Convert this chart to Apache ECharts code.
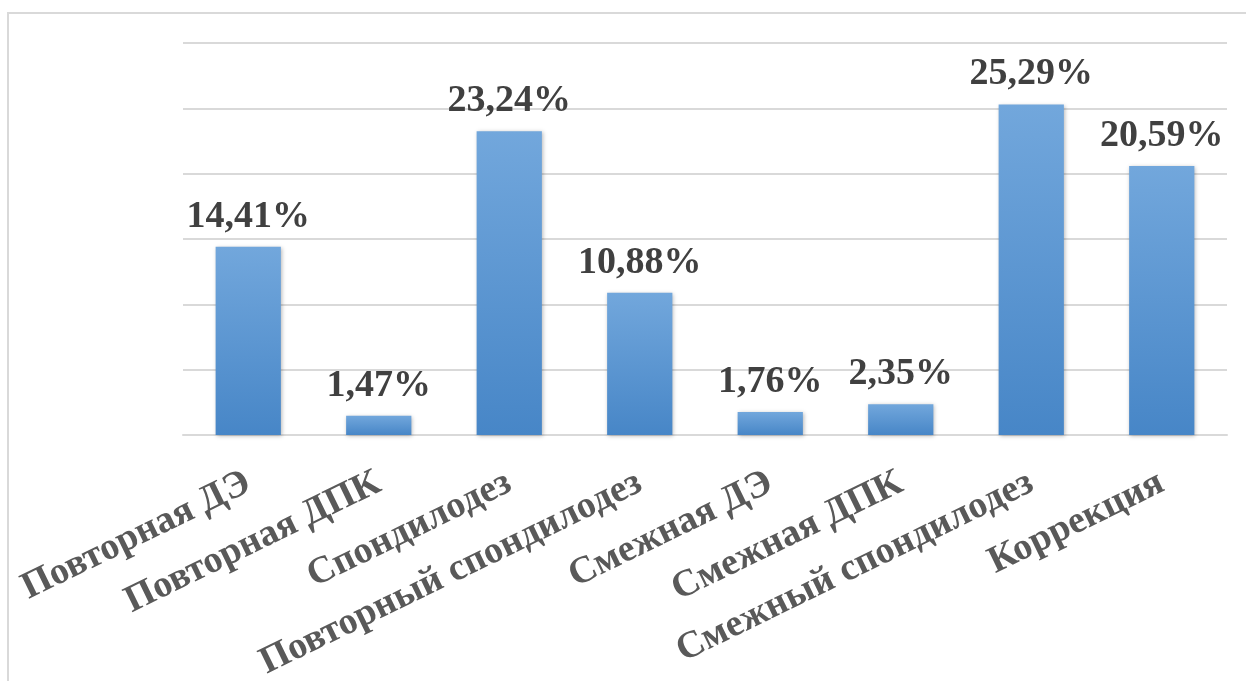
<!DOCTYPE html>
<html>
<head>
<meta charset="utf-8">
<script src="https://cdn.jsdelivr.net/npm/echarts@6/dist/echarts.min.js"></script>
<style>
  html, body { margin: 0; padding: 0; background: #ffffff; }
  #chart { width: 1246px; height: 681px; }
</style>
</head>
<body>
<div id="chart"></div>
<script>
// Категории и доли (%)
const categories = [
  'Повторная ДЭ',
  'Повторная ДПК',
  'Спондилодез',
  'Повторный спондилодез',
  'Смежная ДЭ',
  'Смежная ДПК',
  'Смежный спондилодез',
  'Коррекция'
];
const values = [14.41, 1.47, 23.24, 10.88, 1.76, 2.35, 25.29, 20.59];

const SERIF = '"Liberation Serif", "Times New Roman", "DejaVu Serif", serif';

const chart = echarts.init(document.getElementById('chart'), null, { renderer: 'canvas' });

chart.setOption({
  backgroundColor: '#ffffff',
  animation: false,
  grid: {
    left: 183, right: 19, top: 43, bottom: 246,
    containLabel: false,
    outerBoundsMode: 'none'
  },
  xAxis: {
    type: 'category',
    data: categories,
    axisLine: { show: true, lineStyle: { color: '#d9d9d9', width: 2 } },
    axisTick: { show: false },
    axisLabel: {
      interval: 0,
      rotate: 26,
      margin: 46,
      color: '#595959',
      fontFamily: SERIF,
      fontWeight: 'bold',
      fontSize: 38
    }
  },
  yAxis: {
    type: 'value',
    min: 0,
    max: 30,
    interval: 5,
    axisLine: { show: false },
    axisTick: { show: false },
    axisLabel: { show: false },
    splitLine: { lineStyle: { color: '#d9d9d9', width: 2 } }
  },
  series: [{
    type: 'bar',
    data: values,
    barWidth: '50%',
    itemStyle: {
      color: new echarts.graphic.LinearGradient(0, 0, 0, 1, [
        { offset: 0, color: '#72a7dc' },
        { offset: 1, color: '#4786c7' }
      ]),
      shadowColor: 'rgba(0,0,0,0.28)',
      shadowBlur: 4,
      shadowOffsetX: 1,
      shadowOffsetY: 1
    },
    label: {
      show: true,
      position: 'top',
      distance: 11,
      color: '#404040',
      fontFamily: SERIF,
      fontWeight: 'bold',
      fontSize: 38,
      formatter: p => p.value.toFixed(2).replace('.', ',') + '%'
    }
  }],
  graphic: [{
    type: 'rect',
    silent: true,
    z: -1,
    shape: { x: 8, y: 13, width: 1300, height: 720 },
    style: { fill: null, stroke: '#d9d9d9', lineWidth: 2 }
  }]
});
</script>
</body>
</html>
